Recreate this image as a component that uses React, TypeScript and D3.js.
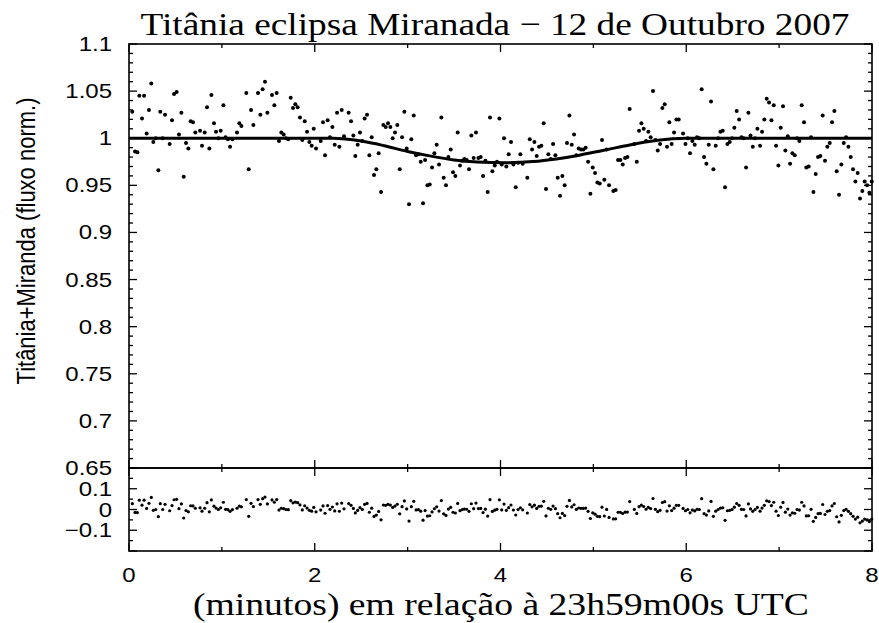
import React from 'react';
import * as d3 from 'd3';

// Observed light curve (minutes from 23h59m00s UTC, normalised flux)
const TIMES = [
  0.036, 0.065, 0.090, 0.111, 0.140, 0.162, 0.190, 0.215, 0.240, 0.262, 0.288, 0.316, 0.337, 0.363, 0.388, 0.438, 0.463, 0.485,
  0.513, 0.538, 0.564, 0.589, 0.614, 0.639, 0.664, 0.689, 0.714, 0.765, 0.786, 0.815, 0.840, 0.865, 0.887, 0.915, 0.937, 0.962,
  0.987, 1.016, 1.040, 1.065, 1.088, 1.113, 1.163, 1.188, 1.210, 1.263, 1.289, 1.314, 1.339, 1.389, 1.414, 1.439, 1.464, 1.490,
  1.540, 1.565, 1.590, 1.615, 1.640, 1.665, 1.690, 1.715, 1.741, 1.766, 1.791, 1.816, 1.841, 1.866, 1.892, 1.917, 1.942,
  1.967, 1.989, 2.014, 2.064, 2.089, 2.111, 2.139, 2.164, 2.190, 2.215, 2.240, 2.265, 2.290, 2.315, 2.365, 2.391, 2.416, 2.437,
  2.462, 2.487, 2.512, 2.537, 2.563, 2.588, 2.613, 2.638, 2.663, 2.688, 2.714, 2.739, 2.764, 2.789, 2.814, 2.839, 2.864, 2.889,
  2.915, 2.940, 2.965, 2.990, 3.015, 3.040, 3.066, 3.091, 3.116, 3.141, 3.166, 3.188, 3.213, 3.238, 3.263, 3.288, 3.313, 3.338,
  3.363, 3.388, 3.413, 3.439, 3.464, 3.489, 3.514, 3.539, 3.564, 3.589, 3.611, 3.636, 3.661, 3.686, 3.711, 3.736, 3.762, 3.787,
  3.812, 3.837, 3.862, 3.887, 3.912, 3.938, 3.962, 3.988, 4.013, 4.038, 4.063, 4.088, 4.113, 4.139, 4.164, 4.189, 4.214, 4.239,
  4.289, 4.315, 4.340, 4.365, 4.390, 4.415, 4.440, 4.465, 4.490, 4.515, 4.541, 4.566, 4.591, 4.616, 4.641, 4.666, 4.691, 4.716,
  4.742, 4.767, 4.792, 4.817, 4.842, 4.867, 4.892, 4.917, 4.943, 4.968, 4.993, 5.018, 5.043, 5.068, 5.093, 5.118, 5.143, 5.169,
  5.215, 5.240, 5.266, 5.291, 5.316, 5.341, 5.366, 5.391, 5.441, 5.467, 5.492, 5.517, 5.542, 5.567, 5.592, 5.617, 5.642, 5.668,
  5.693, 5.718, 5.743, 5.768, 5.793, 5.818, 5.843, 5.869, 5.894, 5.919, 5.966, 5.991, 6.016, 6.041, 6.066, 6.091, 6.116, 6.141,
  6.166, 6.192, 6.217, 6.242, 6.267, 6.292, 6.317, 6.343, 6.368, 6.393, 6.418, 6.443, 6.468, 6.493, 6.518, 6.543, 6.569, 6.594,
  6.619, 6.644, 6.669, 6.692, 6.716, 6.741, 6.766, 6.795, 6.816, 6.841, 6.866, 6.892, 6.917, 6.942, 6.967, 6.992, 7.017, 7.042,
  7.067, 7.093, 7.118, 7.143, 7.168, 7.193, 7.218, 7.243, 7.268, 7.293, 7.318, 7.344, 7.369, 7.394, 7.419, 7.444, 7.469, 7.494,
  7.519, 7.545, 7.570, 7.595, 7.620, 7.645, 7.670, 7.696, 7.721, 7.746, 7.771, 7.796, 7.821, 7.846, 7.871, 7.896, 7.921, 7.947,
  7.972, 7.997,
];
const FLUX = [
  1.028, 0.986, 0.985, 1.045, 1.021, 1.045, 1.005, 1.030, 1.058, 0.996, 1.000, 0.966, 1.028, 1.000, 1.025, 0.994, 1.019, 1.047,
  1.049, 1.004, 1.027, 0.959, 0.995, 0.989, 1.018, 1.017, 1.006, 1.008, 0.992, 1.006, 1.033, 0.989, 1.046, 1.016, 1.007, 1.000,
  1.008, 1.035, 1.001, 0.999, 0.991, 0.999, 1.006, 1.016, 1.013, 1.048, 0.967, 1.030, 1.014, 1.048, 1.025, 1.052, 1.060, 1.027,
  1.046, 1.035, 1.048, 0.997, 1.006, 1.004, 1.000, 0.999, 1.043, 1.032, 1.036, 1.033, 1.022, 0.998, 1.018, 1.007, 0.996,
  0.992, 1.010, 0.989, 0.997, 1.017, 0.982, 1.019, 1.001, 1.012, 0.993, 1.027, 0.991, 1.030, 1.002, 1.027, 1.018, 1.003, 0.981,
  0.993, 1.006, 0.997, 1.021, 1.025, 0.982, 1.001, 0.961, 0.967, 0.984, 0.943, 1.014, 1.012, 1.016, 1.012, 1.000, 1.006, 1.014,
  0.967, 1.001, 1.028, 0.989, 0.930, 0.999, 1.024, 0.982, 0.983, 0.975, 0.931, 0.977, 0.950, 0.951, 0.969, 0.984, 0.993, 0.972,
  1.022, 0.958, 0.950, 0.980, 0.988, 0.964, 0.960, 1.006, 0.971, 0.976, 0.978, 0.977, 0.967, 1.003, 0.979, 1.006, 0.979, 0.980,
  0.960, 0.976, 0.943, 1.022, 0.965, 0.971, 0.975, 1.021, 0.972, 1.000, 0.970, 0.983, 0.996, 0.972, 0.948, 0.974, 0.983, 0.973,
  0.958, 0.999, 0.988, 0.996, 0.981, 0.991, 0.992, 1.016, 0.946, 0.983, 0.978, 0.994, 0.982, 0.958, 0.939, 0.960, 0.950, 0.995,
  1.024, 0.993, 1.004, 0.982, 0.989, 0.988, 0.988, 0.990, 0.975, 0.941, 0.969, 0.963, 0.953, 0.952, 0.998, 0.956, 0.988, 0.950,
  0.944, 0.945, 0.977, 0.977, 0.972, 0.979, 0.980, 1.031, 0.994, 0.975, 1.008, 1.016, 1.010, 0.997, 1.007, 1.001, 1.050, 0.998,
  0.987, 0.994, 1.032, 1.036, 0.991, 1.017, 0.994, 1.006, 1.020, 1.020, 1.005, 0.994, 1.000, 0.984, 0.997, 0.993, 1.001, 1.000,
  1.052, 0.980, 0.973, 0.993, 1.039, 0.967, 0.992, 1.000, 1.007, 1.008, 0.948, 0.994, 0.996, 1.000, 1.011, 1.029, 1.020, 1.001,
  1.000, 0.969, 1.027, 1.003, 0.991, 1.000, 1.010, 0.992, 1.007, 1.020, 1.042, 1.038, 1.019, 1.035, 0.992, 0.971, 1.011, 1.034,
  0.987, 1.002, 0.973, 0.984, 0.982, 1.000, 0.997, 1.035, 1.017, 0.969, 0.970, 1.001, 0.943, 0.962, 0.980, 0.981, 1.024, 0.976,
  0.991, 0.995, 1.017, 1.029, 0.965, 0.940, 0.972, 0.995, 1.001, 0.991, 0.980, 0.967, 0.954, 0.963, 0.936, 0.944, 0.954, 0.950,
  0.942, 0.954,
];

// Fitted eclipse model, sampled from the drawn curve
const MODEL_T = [0, 2.2, 2.5, 2.75, 3.0, 3.25, 3.5, 3.75, 4.05, 4.35, 4.6, 4.85, 5.1, 5.35, 5.6, 5.85, 6.0, 8];
const MODEL_F = [1, 1, 0.997, 0.992, 0.986, 0.981, 0.977, 0.9748, 0.974, 0.9752, 0.978, 0.982, 0.987, 0.992, 0.9965, 0.9995, 1, 1];

const X_TICK_LABELS = [0, 2, 4, 6, 8];
const Y_TICK_LABELS = [0.65, 0.7, 0.75, 0.8, 0.85, 0.9, 0.95, 1, 1.05, 1.1];
const RES_TICK_LABELS = [-0.1, 0, 0.1];

const TITLE = 'Titânia eclipsa Miranada − 12 de Outubro 2007';
const X_LABEL = '(minutos) em relação à 23h59m00s UTC';
const Y_LABEL = 'Titânia+Miranda (fluxo norm.)';

const W = 879;
const H = 623;
const L = 129;
const R = 872;
const TOP = 44;
const MID = 468;
const BOT = 551;

const SANS = "'Liberation Sans', Arial, Helvetica, sans-serif";
const SERIF = "'Liberation Serif', 'Times New Roman', Times, serif";

function fmtY(v: number) {
  return String(+v.toFixed(2));
}
function fmtRes(v: number) {
  if (Math.abs(v) < 1e-9) return '0';
  return (v < 0 ? '\u2212' : '') + String(Math.abs(v));
}

export default function App() {
  const x = d3.scaleLinear().domain([0, 8]).range([L, R]);
  const y = d3.scaleLinear().domain([0.65, 1.1]).range([MID, TOP]);
  const yr = d3.scaleLinear().domain([-0.2, 0.2]).range([BOT, MID]);

  const modelAt = d3.scaleLinear().domain(MODEL_T).range(MODEL_F);

  const pts = TIMES.map((t, i) => ({ t, f: FLUX[i], r: FLUX[i] - modelAt(t) }));
  const model = MODEL_T.map((t, i) => ({ t, f: MODEL_F[i] }));
  const line = d3
    .line<{ t: number; f: number }>()
    .x((d) => x(d.t))
    .y((d) => y(d.f))
    .curve(d3.curveMonotoneX);

  const xMinor = d3.range(0, 9, 1);
  const yMinor = d3.range(0, 46).map((i) => 0.65 + i * 0.01);
  const rMinor = d3.range(-4, 5).map((i) => i * 0.05);

  const major = 8;
  const minor = 4;
  const sw = 1.6;

  return (
    <svg
      width={W}
      height={H}
      style={{ position: 'absolute', left: 0, top: 0, background: '#fff' }}
    >
      <rect x={0} y={0} width={W} height={H} fill="#fff" />

      {/* title */}
      <text
        x={495}
        y={35}
        textAnchor="middle"
        style={{ fontFamily: SERIF }}
        fontSize={32}
        textLength={709}
        lengthAdjust="spacingAndGlyphs"
        fill="#000"
      >
        {TITLE}
      </text>

      {/* data points */}
      <g fill="#000">
        {pts.map((p, i) => (
          <circle key={'p' + i} cx={x(p.t)} cy={y(p.f)} r={2} />
        ))}
      </g>

      {/* model */}
      <path d={line(model) || ''} fill="none" stroke="#000" strokeWidth={3} />

      {/* residuals */}
      <g fill="#000">
        {pts.map((p, i) => (
          <circle key={'r' + i} cx={x(p.t)} cy={yr(p.r)} r={1.6} />
        ))}
      </g>

      {/* ticks */}
      <g stroke="#000" strokeWidth={1.3}>
        {yMinor.map((v, i) => {
          const isMaj = i % 5 === 0;
          const len = isMaj ? major : minor;
          const yy = y(v);
          return (
            <g key={'ym' + i}>
              <line x1={L} x2={L + len} y1={yy} y2={yy} />
              <line x1={R} x2={R - len} y1={yy} y2={yy} />
            </g>
          );
        })}
        {rMinor.map((v, i) => {
          const isMaj = i % 2 === 0;
          const len = isMaj ? major : minor;
          const yy = yr(v);
          return (
            <g key={'rm' + i}>
              <line x1={L} x2={L + len} y1={yy} y2={yy} />
              <line x1={R} x2={R - len} y1={yy} y2={yy} />
            </g>
          );
        })}
        {xMinor.map((v, i) => {
          const isMaj = v % 2 === 0;
          const len = isMaj ? major : minor;
          const xx = x(v);
          return (
            <g key={'xm' + i}>
              <line x1={xx} x2={xx} y1={TOP} y2={TOP + len} />
              <line x1={xx} x2={xx} y1={MID - len} y2={MID + len} />
              <line x1={xx} x2={xx} y1={BOT} y2={BOT - len} />
            </g>
          );
        })}
      </g>

      {/* frames */}
      <rect x={L} y={TOP} width={R - L} height={MID - TOP} fill="none" stroke="#000" strokeWidth={sw} />
      <rect x={L} y={MID} width={R - L} height={BOT - MID} fill="none" stroke="#000" strokeWidth={sw} />

      {/* tick labels */}
      <g style={{ fontFamily: SANS }} fontSize={20} fill="#000">
        {Y_TICK_LABELS.map((v) => (
          <text
            key={'yl' + v}
            transform={`translate(${112},${y(v)}) scale(1.2,1)`}
            textAnchor="end"
            dy="0.35em"
          >
            {fmtY(v)}
          </text>
        ))}
        {RES_TICK_LABELS.map((v) => (
          <text
            key={'rl' + v}
            transform={`translate(${112},${yr(v)}) scale(1.2,1)`}
            textAnchor="end"
            dy="0.35em"
          >
            {fmtRes(v)}
          </text>
        ))}
        {X_TICK_LABELS.map((v) => (
          <text
            key={'xl' + v}
            transform={`translate(${x(v)},${582}) scale(1.2,1)`}
            textAnchor="middle"
          >
            {String(v)}
          </text>
        ))}
      </g>

      {/* axis labels */}
      <text
        x={501}
        y={615}
        textAnchor="middle"
        style={{ fontFamily: SERIF }}
        fontSize={31}
        textLength={616}
        lengthAdjust="spacingAndGlyphs"
        fill="#000"
      >
        {X_LABEL}
      </text>
      <text
        transform={`translate(35,241) scale(1.2,1) rotate(-90)`}
        textAnchor="middle"
        style={{ fontFamily: SANS }}
        fontSize={22}
        fill="#000"
      >
        {Y_LABEL}
      </text>
    </svg>
  );
}
